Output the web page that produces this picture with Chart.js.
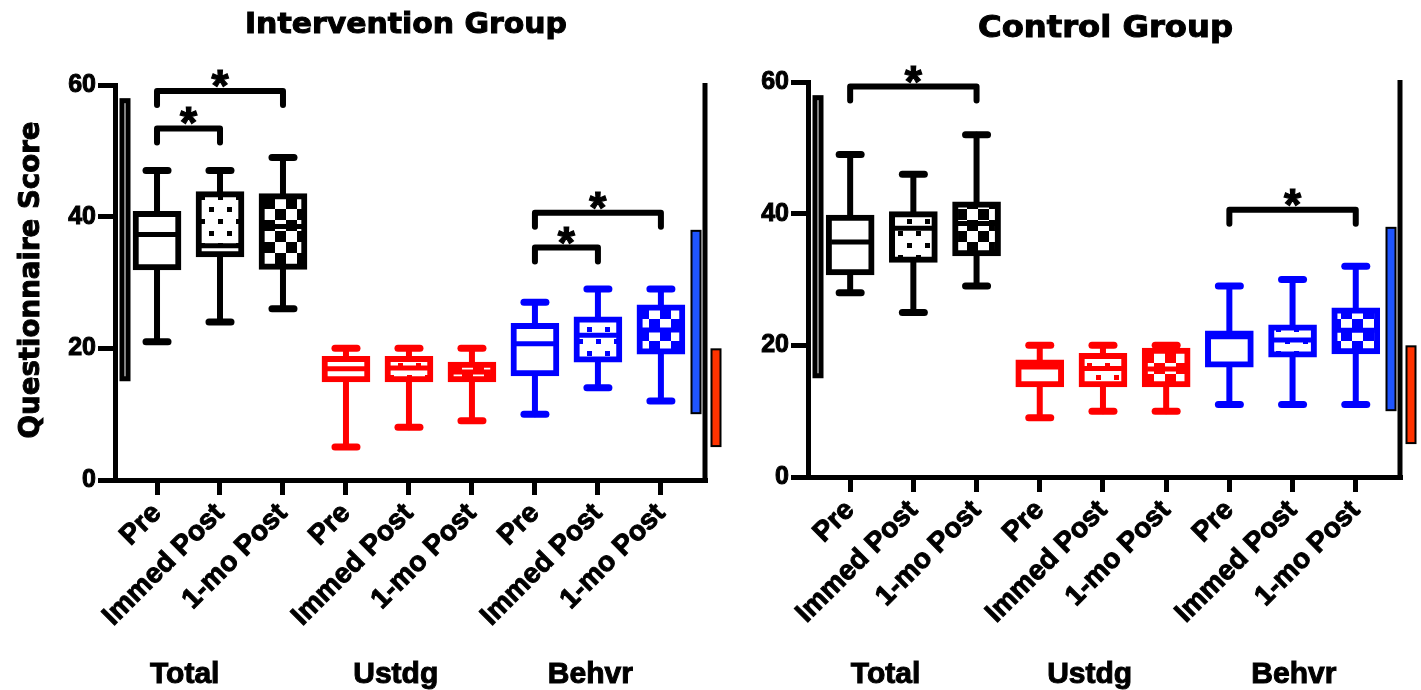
<!DOCTYPE html>
<html><head><meta charset="utf-8">
<script src="https://cdn.jsdelivr.net/npm/chart.js@4.4.1/dist/chart.umd.min.js"></script>
<style>
html,body{margin:0;padding:0;background:#fff;}
#wrap{position:relative;width:1421px;height:690px;overflow:hidden;}
.panel{position:absolute;top:0;height:690px;}
</style></head><body>
<div id="wrap">
<div class="panel" style="left:0;width:725px"><canvas id="c1" width="725" height="690"></canvas></div>
<div class="panel" style="left:725px;width:696px"><canvas id="c2" width="696" height="690"></canvas></div>
</div>
<script>
// ---------------- DATA ----------------
const categories = ['Pre','Immed Post','1-mo Post','Pre','Immed Post','1-mo Post','Pre','Immed Post','1-mo Post'];
const groupNames = ['Total','Ustdg','Behvr'];
const yTickValues = [0, 20, 40, 60];

// Intervention group (box-and-whisker: min, Q1, median, Q3, max)
const intMin    = [21, 24, 26, 5, 8, 9, 10, 14, 12];
const intQ1     = [31.9, 33.9, 32.0, 14.9, 14.9, 14.9, 15.8, 17.9, 19.1];
const intMedian = [37.3, 35.6, 38.5, 16.9, 17.0, 16.4, 20.7, 22.0, 22.8];
const intQ3     = [40.8, 43.8, 43.5, 18.8, 18.8, 17.9, 23.8, 24.8, 26.6];
const intMax    = [47, 47, 49, 20, 20, 20, 27, 29, 29];
// significance brackets: [from index, to index, bracket height]
const intBrackets = [[0, 2, 59.1], [0, 1, 53.4], [6, 8, 40.6], [6, 7, 35.3]];

// Control group
const ctlMin    = [28, 25, 29, 9, 10, 10, 11, 11, 11];
const ctlQ1     = [30.7, 32.6, 33.6, 13.7, 13.7, 13.7, 16.7, 18.2, 18.7];
const ctlMedian = [35.7, 37.8, 38.5, 16.7, 16.5, 16.4, 21.3, 20.8, 22.3];
const ctlQ3     = [39.8, 40.3, 41.8, 17.8, 18.8, 19.6, 22.2, 23.1, 25.7];
const ctlMax    = [49, 46, 52, 20, 20, 20, 29, 30, 32];
const ctlBrackets = [[0, 2, 59.3], [6, 8, 40.6]];

// possible score ranges (side bars)
const rangeTotal = [15, 58];
const rangeBehvr = [10, 38];
const rangeUstdg = [5, 20];

// ---------------- STYLE ----------------
const FAMILY = "'Liberation Sans', Arial, Helvetica, sans-serif";
const HEAVY = "'DejaVu Sans', 'Liberation Sans', sans-serif";
const groupColors = ['#000000', '#ff0000', '#0000ff'];
const fillKinds = ['none', 'dots', 'checker'];

function makePattern(ctx, kind, color) {
  if (kind === 'none') return '#ffffff';
  const t = document.createElement('canvas');
  if (kind === 'dots') {
    t.width = 18; t.height = 24;
    const c = t.getContext('2d');
    c.fillStyle = '#fff'; c.fillRect(0, 0, 18, 24);
    c.fillStyle = color;
    c.fillRect(2, 3, 5, 5); c.fillRect(11, 15, 5, 5);
  } else {
    t.width = 22; t.height = 22;
    const c = t.getContext('2d');
    c.fillStyle = '#fff'; c.fillRect(0, 0, 22, 22);
    c.fillStyle = color;
    c.fillRect(0, 0, 11, 11); c.fillRect(11, 11, 11, 11);
  }
  return ctx.createPattern(t, 'repeat');
}

function boldText(ctx, text, x, y) {
  ctx.fillText(text, x, y);
  ctx.strokeText(text, x, y);
}

function makeDeco(p) {
  return {
    id: 'deco_' + p.id,
    beforeDatasetsDraw(chart) {
      const {ctx, scales: {x, y}} = chart;
      ctx.save();
      ctx.lineCap = 'round';
      p.min.forEach((mn, i) => {
        const cx = x.getPixelForValue(i);
        const col = groupColors[Math.floor(i / 3)];
        ctx.strokeStyle = col;
        ctx.lineWidth = 6;
        ctx.beginPath();
        ctx.moveTo(cx, y.getPixelForValue(mn));
        ctx.lineTo(cx, y.getPixelForValue(p.max[i]));
        ctx.stroke();
        ctx.lineWidth = 7;
        [mn, p.max[i]].forEach(v => {
          const py = y.getPixelForValue(v);
          ctx.beginPath(); ctx.moveTo(cx - 11, py); ctx.lineTo(cx + 11, py); ctx.stroke();
        });
      });
      ctx.restore();
    },
    afterDatasetsDraw(chart) {
      const {ctx, chartArea: ca, scales: {x, y}} = chart;
      ctx.save();
      // medians
      ctx.lineCap = 'butt';
      ctx.lineWidth = 5;
      p.median.forEach((m, i) => {
        const cx = x.getPixelForValue(i);
        ctx.strokeStyle = groupColors[Math.floor(i / 3)];
        const py = y.getPixelForValue(m);
        ctx.beginPath(); ctx.moveTo(cx - 19, py); ctx.lineTo(cx + 19, py); ctx.stroke();
      });
      // right border
      ctx.strokeStyle = '#000';
      ctx.lineWidth = 5;
      ctx.beginPath(); ctx.moveTo(ca.right, ca.top - 2); ctx.lineTo(ca.right, ca.bottom + 2); ctx.stroke();
      // score range bars
      const bar = (cx, r, fill, bw) => {
        const t = y.getPixelForValue(r[1]), b = y.getPixelForValue(r[0]);
        ctx.fillStyle = '#000';
        ctx.fillRect(cx - 5.5, t, 11, b - t);
        ctx.fillStyle = fill;
        ctx.fillRect(cx - 5.5 + bw, t + bw, 11 - 2 * bw, b - t - 2 * bw);
      };
      bar(ca.left + 10, rangeTotal, '#ffffff', 5);
      bar(ca.right - 9, rangeBehvr, '#1f55ff', 2);
      bar(ca.right + 11, rangeUstdg, '#ff3300', 2);
      // brackets
      ctx.strokeStyle = '#000';
      ctx.lineWidth = 6;
      ctx.lineCap = 'round';
      ctx.lineJoin = 'round';
      ctx.fillStyle = '#000';
      p.brackets.forEach(([a, b, h]) => {
        const x1 = x.getPixelForValue(a), x2 = x.getPixelForValue(b);
        const py = y.getPixelForValue(h);
        ctx.beginPath();
        ctx.moveTo(x1, py + 14); ctx.lineTo(x1, py); ctx.lineTo(x2, py); ctx.lineTo(x2, py + 14);
        ctx.stroke();
      });
      ctx.font = 'bold 44px ' + FAMILY;
      ctx.textAlign = 'center';
      ctx.textBaseline = 'alphabetic';
      ctx.lineWidth = 1.2;
      ctx.lineJoin = 'miter';
      p.brackets.forEach(([a, b, h]) => {
        const x1 = x.getPixelForValue(a), x2 = x.getPixelForValue(b);
        const py = y.getPixelForValue(h);
        boldText(ctx, '*', (x1 + x2) / 2, py - 15 + 25);
      });
      // group labels
      ctx.font = 'bold 30px ' + FAMILY;
      ctx.lineWidth = 1;
      groupNames.forEach((g, k) => {
        boldText(ctx, g, x.getPixelForValue(p.groupLabelPos[k]), 683);
      });
      // titles
      const drawStretched = (text, cx, base, size, targetW, rot) => {
        ctx.font = 'bold ' + size + 'px ' + HEAVY;
        const w = ctx.measureText(text).width;
        ctx.save();
        ctx.translate(cx, base);
        if (rot) ctx.rotate(rot);
        ctx.scale(targetW / w, 1);
        ctx.textAlign = 'center';
        ctx.textBaseline = rot ? 'middle' : 'alphabetic';
        ctx.lineWidth = 1;
        boldText(ctx, text, 0, 0);
        ctx.restore();
      };
      drawStretched(p.title, p.titleX, p.titleBase, p.titleSize, p.titleW, 0);
      if (p.yTitle) drawStretched(p.yTitle, 31, 280, 29, 317, -Math.PI / 2);
      ctx.restore();
    }
  };
}

function buildChart(canvasId, p) {
  const canvas = document.getElementById(canvasId);
  const ctx = canvas.getContext('2d');
  const colors = categories.map((c, i) => groupColors[Math.floor(i / 3)]);
  const fills = categories.map((c, i) => makePattern(ctx, fillKinds[i % 3], groupColors[Math.floor(i / 3)]));
  return new Chart(ctx, {
    type: 'bar',
    data: {
      datasets: [{
        data: categories.map((c, i) => ({x: i, y: [p.q1[i], p.q3[i]]})),
        backgroundColor: fills,
        borderColor: colors,
        borderWidth: 6,
        borderSkipped: false,
        barThickness: 48
      }]
    },
    options: {
      responsive: false,
      animation: false,
      events: [],
      layout: {padding: {top: p.area.top, right: p.canvasW - p.area.right, left: 0, bottom: 0}},
      plugins: {legend: {display: false}, title: {display: false}, tooltip: {enabled: false}},
      scales: {
        x: {
          type: 'linear', min: -0.667, max: 8.7, offset: false,
          afterBuildTicks: s => { s.ticks = categories.map((c, i) => ({value: i})); },
          afterFit: s => { s.height = 690 - p.area.bottom; },
          ticks: {
            callback: v => categories[v],
            autoSkip: false, maxRotation: 45, minRotation: 45,
            color: '#000', padding: 2,
            textStrokeColor: '#000', textStrokeWidth: 1,
            font: {family: FAMILY, size: 28, weight: 'bold'}
          },
          grid: {offset: false, drawOnChartArea: false, drawTicks: true, tickLength: 15, lineWidth: 5, color: '#000'},
          border: {display: true, width: 5, color: '#000'}
        },
        y: {
          min: 0, max: 60,
          afterBuildTicks: s => { s.ticks = yTickValues.map(v => ({value: v})); },
          afterFit: s => { s.width = p.area.left; },
          ticks: {color: '#000', padding: 2, textStrokeColor: '#000', textStrokeWidth: 1,
                  font: {family: FAMILY, size: 25, weight: 'bold'}},
          grid: {drawOnChartArea: false, drawTicks: true, tickLength: 17, lineWidth: 5, color: '#000'},
          border: {display: true, width: 5, color: '#000'}
        }
      }
    },
    plugins: [makeDeco(p)]
  });
}

buildChart('c1', {
  id: 'int', canvasW: 725,
  area: {left: 115, right: 705, top: 85, bottom: 480},
  min: intMin, q1: intQ1, median: intMedian, q3: intQ3, max: intMax,
  brackets: intBrackets,
  groupLabelPos: [0.44, 3.79, 6.88],
  title: 'Intervention Group', titleX: 406, titleBase: 33, titleSize: 28, titleW: 322,
  yTitle: 'Questionnaire Score'
});
buildChart('c2', {
  id: 'ctl', canvasW: 696,
  area: {left: 83, right: 675, top: 82, bottom: 477},
  min: ctlMin, q1: ctlQ1, median: ctlMedian, q3: ctlQ3, max: ctlMax,
  brackets: ctlBrackets,
  groupLabelPos: [0.56, 3.79, 7.02],
  title: 'Control Group', titleX: 380.5, titleBase: 37, titleSize: 30, titleW: 255,
  yTitle: null
});
</script>
</body></html>
